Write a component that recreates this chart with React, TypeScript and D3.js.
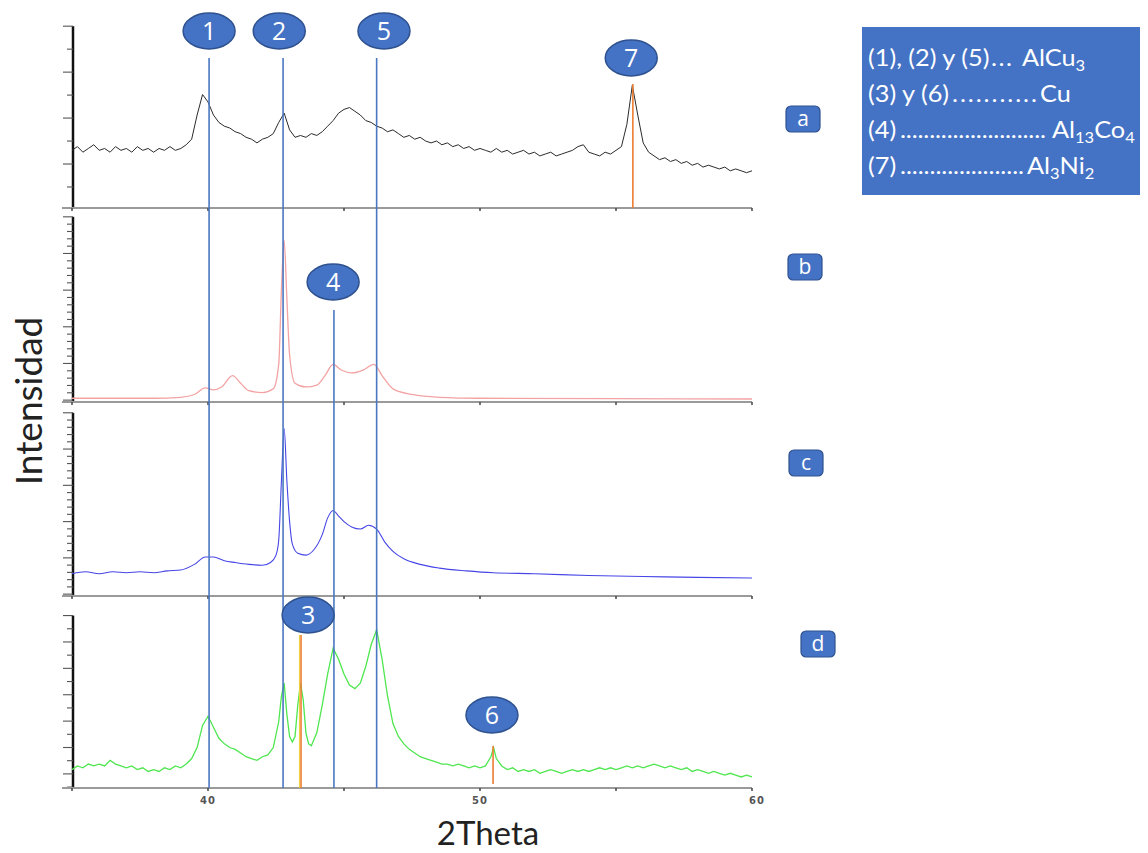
import React from 'react';
import * as d3 from 'd3';

// ---------- DATA ----------
const panelIds = ['a', 'b', 'c', 'd'];

// 2Theta vs intensity (arbitrary units 0-100 within each panel)
const seriesA: [number, number][] = [
  [35.0, 31], [35.2, 33], [35.4, 30], [35.6, 32], [35.8, 34], [36.0, 31], [36.2, 32], [36.4, 30], [36.6, 33], [36.8, 31],
  [37.0, 32], [37.2, 30], [37.4, 33], [37.6, 31], [37.8, 32], [38.0, 30], [38.2, 32], [38.4, 31], [38.6, 33], [38.8, 31],
  [39.0, 32], [39.2, 34], [39.4, 37], [39.6, 50], [39.8, 61], [40.0, 57], [40.2, 50], [40.4, 46], [40.6, 44], [40.8, 43],
  [41.0, 41], [41.2, 40], [41.4, 38], [41.6, 37], [41.8, 35], [42.0, 37], [42.2, 38], [42.4, 40], [42.6, 46], [42.8, 51],
  [43.0, 42], [43.2, 38], [43.4, 39], [43.6, 38], [43.8, 40], [44.0, 39], [44.2, 41], [44.4, 44], [44.6, 47], [44.8, 51],
  [45.0, 53], [45.2, 54], [45.4, 52], [45.6, 50], [45.8, 47], [46.0, 46], [46.2, 44], [46.4, 43], [46.6, 41], [46.8, 42],
  [47.0, 40], [47.2, 38], [47.4, 39], [47.6, 37], [47.8, 38], [48.0, 36], [48.2, 35], [48.4, 36], [48.6, 34], [48.8, 35],
  [49.0, 33], [49.2, 34], [49.4, 32], [49.6, 33], [49.8, 31], [50.0, 32], [50.2, 31], [50.4, 30], [50.6, 32], [50.8, 30],
  [51.0, 31], [51.2, 29], [51.4, 30], [51.6, 31], [51.8, 29], [52.0, 30], [52.2, 28], [52.4, 29], [52.6, 30], [52.8, 28],
  [53.0, 29], [53.2, 30], [53.4, 31], [53.6, 33], [53.8, 34], [54.0, 30], [54.2, 29], [54.4, 28], [54.6, 30], [54.8, 29],
  [55.0, 31], [55.2, 33], [55.4, 45], [55.6, 66], [55.8, 50], [56.0, 35], [56.2, 30], [56.4, 28], [56.6, 26], [56.8, 27],
  [57.0, 25], [57.2, 26], [57.4, 24], [57.6, 25], [57.8, 23], [58.0, 24], [58.2, 22], [58.4, 23], [58.6, 22], [58.8, 21],
  [59.0, 22], [59.2, 20], [59.4, 21], [59.6, 20], [59.8, 19], [60.0, 20],
];

const seriesB: [number, number][] = [
  [35.0, 2], [38.0, 2], [39.0, 2.5], [39.5, 4], [39.9, 7.5], [40.2, 6.5], [40.5, 8], [40.9, 14], [41.2, 10], [41.5, 6],
  [42.0, 5], [42.4, 7], [42.6, 20], [42.7, 60], [42.8, 86], [42.9, 55], [43.0, 25], [43.2, 10], [43.6, 8], [44.0, 9],
  [44.3, 14], [44.6, 20], [44.9, 17], [45.3, 15.5], [45.7, 17], [46.1, 20], [46.4, 14], [46.8, 7], [47.5, 4], [48.5, 2.5],
  [50.0, 2], [55.0, 1.8], [60.0, 1.6],
];

const seriesC: [number, number][] = [
  [35.0, 12], [35.5, 13], [36.0, 12], [36.5, 13], [37.0, 12.5], [37.5, 13], [38.0, 12.5], [38.5, 13.5], [39.0, 14], [39.5, 17],
  [39.9, 21], [40.2, 21], [40.6, 19], [41.0, 18], [41.5, 17], [42.0, 16.5], [42.3, 18], [42.5, 22], [42.6, 30], [42.7, 62],
  [42.8, 90], [42.9, 62], [43.0, 40], [43.1, 28], [43.3, 23], [43.6, 22], [43.9, 25], [44.2, 33], [44.4, 42], [44.6, 46],
  [44.8, 43], [45.0, 40], [45.3, 37], [45.6, 36], [45.9, 38], [46.2, 36], [46.5, 29], [46.8, 24], [47.2, 20], [47.8, 17],
  [48.5, 15], [49.5, 13.5], [50.5, 12.5], [52.0, 12], [54.0, 11], [56.0, 10.5], [58.0, 10], [60.0, 9.7],
];

const seriesD: [number, number][] = [
  [35.0, 10], [35.2, 12], [35.4, 11], [35.6, 13], [35.8, 12], [36.0, 13], [36.2, 12], [36.4, 15], [36.6, 13], [36.8, 12],
  [37.0, 11], [37.2, 12], [37.4, 10], [37.6, 11], [37.8, 9], [38.0, 10], [38.2, 9], [38.4, 11], [38.6, 10], [38.8, 12],
  [39.0, 11], [39.2, 13], [39.4, 16], [39.6, 22], [39.8, 34], [40.0, 39], [40.2, 33], [40.4, 27], [40.6, 24], [40.8, 22],
  [41.0, 21], [41.2, 19], [41.4, 17], [41.6, 16], [41.8, 15], [42.0, 17], [42.2, 18], [42.4, 22], [42.6, 36], [42.7, 50],
  [42.8, 57], [42.9, 40], [43.0, 28], [43.1, 25], [43.2, 28], [43.3, 45], [43.4, 57], [43.5, 48], [43.6, 30], [43.7, 24],
  [43.8, 23], [44.0, 30], [44.2, 45], [44.4, 62], [44.6, 76], [44.8, 70], [45.0, 62], [45.2, 56], [45.4, 54], [45.6, 57],
  [45.8, 66], [46.0, 78], [46.2, 86], [46.4, 70], [46.6, 50], [46.8, 35], [47.0, 28], [47.2, 24], [47.4, 21], [47.6, 19],
  [47.8, 17], [48.0, 16], [48.2, 15], [48.4, 14], [48.6, 13], [48.8, 13], [49.0, 12], [49.2, 13], [49.4, 12], [49.6, 11],
  [49.8, 12], [50.0, 11], [50.2, 12], [50.4, 17], [50.5, 22], [50.6, 16], [50.8, 12], [51.0, 10], [51.2, 11], [51.4, 9],
  [51.6, 10], [51.8, 9], [52.0, 10], [52.2, 8], [52.4, 9], [52.6, 10], [52.8, 9], [53.0, 8], [53.2, 9], [53.4, 10],
  [53.6, 9], [53.8, 10], [54.0, 9], [54.2, 10], [54.4, 11], [54.6, 10], [54.8, 11], [55.0, 10], [55.2, 11], [55.4, 12],
  [55.6, 11], [55.8, 12], [56.0, 11], [56.2, 12], [56.4, 13], [56.6, 12], [56.8, 11], [57.0, 12], [57.2, 11], [57.4, 10],
  [57.6, 11], [57.8, 9], [58.0, 10], [58.2, 9], [58.4, 8], [58.6, 9], [58.8, 8], [59.0, 7], [59.2, 8], [59.4, 7],
  [59.6, 6], [59.8, 7], [60.0, 6],
];

const xTicks = [40, 50, 60];
const xMinorTicks = [35, 40, 45, 50, 55, 60];

// peak reference lines (2Theta)
const blueLineX = [40.04, 42.76, 46.2, 44.63];
const orangeLineX = [55.62, 43.42, 50.48];
const markerLabels = ['1', '2', '5', '7', '4', '3', '6'];
const markerX = [40.04, 42.62, 46.47, 55.56, 44.6, 43.68, 50.44];

const legendLeft = ['(1), (2) y (5)', '(3) y (6)', '(4)', '(7)'];
const legendDots = ['...', '...........', '.........................', '.....................'];
const legendFormula: [string, boolean][][] = [
  [['AlCu', false], ['3', true]],
  [['Cu', false]],
  [['Al', false], ['13', true], ['Co', false], ['4', true]],
  [['Al', false], ['3', true], ['Ni', false], ['2', true]],
];

// ---------- LAYOUT ----------
const W = 1148, H = 853;
const X0 = 72, X1 = 752;
const panels = [
  { top: 22, bottom: 208, tickStart: 11.3, tickStep: 12.35, majorEvery: 2, majorOffset: 1 },
  { top: 214, bottom: 402, tickStart: 1, tickStep: 3.9, majorEvery: 5, majorOffset: 0 },
  { top: 410, bottom: 596, tickStart: 1, tickStep: 3.9, majorEvery: 5, majorOffset: 0 },
  { top: 604, bottom: 788, tickStart: 0.5, tickStep: 7.17, majorEvery: 2, majorOffset: 1 },
];
const seriesList = [seriesA, seriesB, seriesC, seriesD];
const seriesColor = ['#2b2b2b', '#f3a3a3', '#4646e6', '#4fe64f'];
const seriesWidth = [1, 1.3, 1.1, 1.3];
const seriesCurve = [d3.curveLinear, d3.curveMonotoneX, d3.curveMonotoneX, d3.curveLinear];

const blueLineTop = [58, 58, 58, 310];
const orangeLineSpan = [[84, 208], [635, 788], [746, 784]];
const markerY = [31, 31, 31, 58, 282, 615, 715];
const boxPos = [[803, 119], [805, 267], [806, 463], [818, 644]];

// legend layout (screen px)
const LEG_X = 868, LEG_S = 1.1, LEG_FS = 23;
const legDotsStart = [991, 952, 900, 900];
const legDotsEnd = [1012, 1037, 1046, 1024];
const legFormulaX = [1022, 1040, 1052, 1027];

const BLUE = '#4472C4';
const BLUE_DARK = '#2F528F';

export default function App() {
  const x = d3.scaleLinear().domain([35, 60]).range([X0, X1]);
  const yScales = panels.map((p) => d3.scaleLinear().domain([0, 100]).range([p.bottom, p.top]));
  const lx = (px: number) => (px - LEG_X) / LEG_S;

  return (
    <svg width={W} height={H} style={{ position: 'absolute', left: 0, top: 0, background: '#fff' }}
      fontFamily="Lato, 'Open Sans', sans-serif">
      <rect x={0} y={0} width={W} height={H} fill="#fff" />

      {/* left axis segments and ticks */}
      {panels.map((p, i) => {
        const ys = yScales[i];
        const ticks = d3.range(p.tickStart, 100.5, p.tickStep);
        return (
          <g key={'ax' + i}>
            <line x1={X0 + 1} x2={X0 + 1} y1={ys(ticks[ticks.length - 1])} y2={p.bottom}
              stroke="#111" strokeWidth={2.5} />
            {ticks.map((t, k) => {
              const major = (k - p.majorOffset) % p.majorEvery === 0;
              return (
                <line key={k} x1={X0 + 1} x2={X0 + 1 - (major ? 10 : 6)} y1={ys(t)} y2={ys(t)}
                  stroke="#555" strokeWidth={1.1} />
              );
            })}
          </g>
        );
      })}

      {/* horizontal separators / bottom axis */}
      {panels.map((p, i) => (
        <g key={'sep' + i}>
          <line x1={X0 - 10} x2={X1} y1={p.bottom} y2={p.bottom} stroke="#9a9a9a" strokeWidth={2} />
          {xMinorTicks.map((t) => (
            <line key={t} x1={x(t)} x2={x(t)} y1={p.bottom} y2={p.bottom + 3} stroke="#444" strokeWidth={1.5} />
          ))}
        </g>
      ))}
      {xTicks.map((t) => (
        <text key={'xt' + t} x={x(t) + (t === 60 ? 5 : 0)} y={804} textAnchor="middle" fontSize={10}
          fontWeight="bold" fill="#555" letterSpacing={1} fontFamily="'DejaVu Sans', sans-serif">{t}</text>
      ))}

      {/* series */}
      {seriesList.map((s, i) => {
        const line = d3.line<[number, number]>().x((d) => x(d[0])).y((d) => yScales[i](d[1])).curve(seriesCurve[i]);
        return <path key={'s' + i} d={line(s) || ''} fill="none" stroke={seriesColor[i]} strokeWidth={seriesWidth[i]} />;
      })}

      {/* reference lines */}
      {blueLineX.map((v, i) => (
        <line key={'bl' + i} x1={x(v)} x2={x(v)} y1={blueLineTop[i]} y2={788} stroke="#4a77c2" strokeWidth={1.6} />
      ))}
      <line x1={x(orangeLineX[1]) - 1.5} x2={x(orangeLineX[1]) - 1.5} y1={orangeLineSpan[1][0]} y2={orangeLineSpan[1][1]}
        stroke="#f0d040" strokeWidth={1.2} />
      {orangeLineX.map((v, i) => (
        <line key={'ol' + i} x1={x(v)} x2={x(v)} y1={orangeLineSpan[i][0]} y2={orangeLineSpan[i][1]}
          stroke="#ED7D31" strokeWidth={1.6} />
      ))}

      {/* numbered markers */}
      {markerLabels.map((lab, i) => (
        <g key={'m' + i}>
          <ellipse cx={x(markerX[i])} cy={markerY[i]} rx={26} ry={18} fill={BLUE} stroke={BLUE_DARK} strokeWidth={1.5} />
          <text x={x(markerX[i])} y={markerY[i] + 9} textAnchor="middle" fontSize={25} fill="#fff"
            fontFamily="'Open Sans', sans-serif">{lab}</text>
        </g>
      ))}

      {/* panel letter boxes */}
      {panelIds.map((id, i) => (
        <g key={'pb' + id}>
          <rect x={boxPos[i][0] - 17} y={boxPos[i][1] - 13} width={34} height={26} rx={5} fill={BLUE} stroke={BLUE_DARK} strokeWidth={1.2} />
          <text x={boxPos[i][0]} y={boxPos[i][1] + 7} textAnchor="middle" fontSize={21} fill="#fff"
            fontFamily="'Open Sans', sans-serif">{id}</text>
        </g>
      ))}

      {/* legend box */}
      <rect x={862} y={27} width={278} height={168} fill={BLUE} />
      <g transform={`translate(${LEG_X},0) scale(${LEG_S},1)`} fill="#fff" fontFamily="Lato, sans-serif">
        {legendLeft.map((l, i) => {
          const yb = 66 + i * 36;
          return (
            <g key={'lg' + i}>
              <text x={0} y={yb} fontSize={LEG_FS}>{l}</text>
              <text x={lx(legDotsStart[i])} y={yb} fontSize={LEG_FS} textLength={lx(legDotsEnd[i]) - lx(legDotsStart[i])}
                lengthAdjust="spacing">{legendDots[i]}</text>
              <text x={lx(legFormulaX[i])} y={yb} fontSize={LEG_FS}>
                {legendFormula[i].map((f, k) => (
                  <tspan key={k} fontSize={f[1] ? 15 : LEG_FS}
                    dy={f[1] ? 5 : (k > 0 && legendFormula[i][k - 1][1] ? -5 : 0)}>{f[0]}</tspan>
                ))}
              </text>
            </g>
          );
        })}
      </g>

      {/* axis titles */}
      <text x={488} y={845} textAnchor="middle" fontSize={33} fill="#222" fontFamily="Lato, sans-serif">2Theta</text>
      <text transform="translate(42,401) rotate(-90)" textAnchor="middle" fontSize={37} fill="#222"
        fontFamily="Lato, sans-serif">Intensidad</text>
    </svg>
  );
}
